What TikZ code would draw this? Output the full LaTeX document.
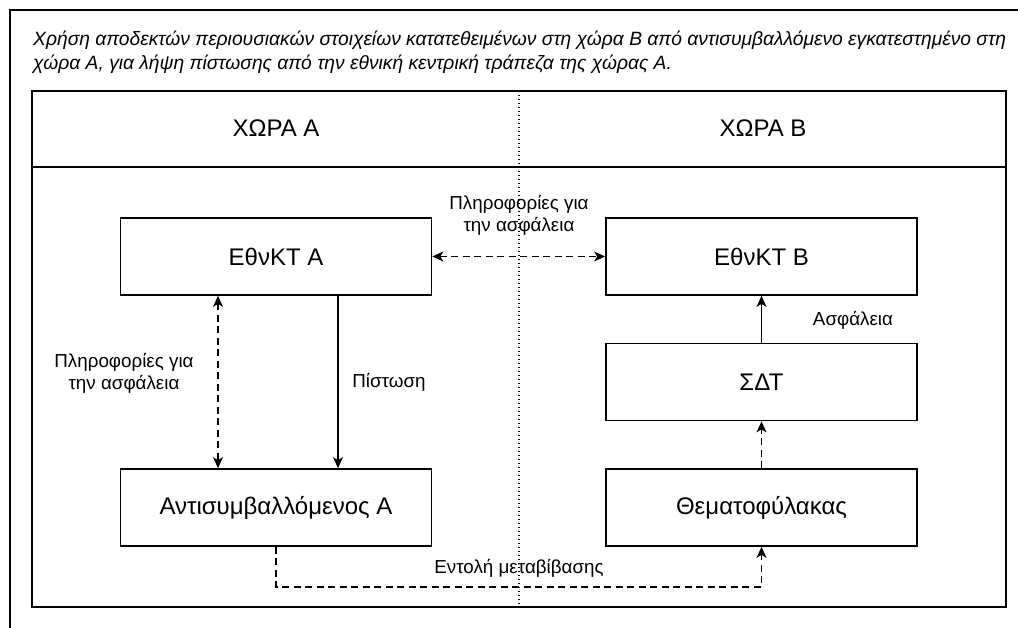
\documentclass[tikz,border=0pt]{standalone}
\usepackage{fontspec}
\setmainfont{Liberation Sans}
\usetikzlibrary{arrows.meta}

\begin{document}
\begin{tikzpicture}[x=1pt, y=-1pt, >={Stealth[length=11pt,width=10pt,inset=3pt]}]
   \tikzset{BoxStyle/.style={draw, line width=1.7pt, minimum width=311pt, minimum height=77pt, font=\fontsize{24}{28}\selectfont}}
   \tikzset{LabelStyle/.style={font=\fontsize{18.8}{22}\selectfont, align=center, inner sep=0pt}}
   \tikzset{LinkStyle/.style={line width=1.3pt}}
   \tikzset{DashStyle/.style={LinkStyle, dash pattern=on 7pt off 4.5pt}}
   \useasboundingbox (0,0) rectangle (1018,628);
   \clip (0,0) rectangle (1018,628);
   \draw[line width=1.7pt] (10,10) rectangle (1040,650);
   \node[anchor=north west, align=left, inner sep=0pt, font=\itshape\fontsize{19.25}{24}\selectfont] (title) at (33,31)
      {Χρήση αποδεκτών περιουσιακών στοιχείων κατατεθειμένων στη χώρα Β από αντισυμβαλλόμενο εγκατεστημένο στη\\
       χώρα Α, για λήψη πίστωσης από την εθνική κεντρική τράπεζα της χώρας Α.};
   \draw[line width=1.7pt] (32,91) rectangle (1006,607);
   \draw[line width=1.7pt] (32,167) -- (1006,167);
   \draw[line width=1.3pt, dash pattern=on 1.4pt off 2.6pt] (519,91) -- (519,607);
   \node[font=\fontsize{24}{28}\selectfont] (chora_a) at (276,128) {ΧΩΡΑ Α};
   \node[font=\fontsize{24}{28}\selectfont] (chora_b) at (763,128) {ΧΩΡΑ Β};
   \node[BoxStyle] (ekt_a) at (276,256.5) {ΕθνΚΤ Α};
   \node[BoxStyle] (ekt_b) at (761.5,256.5) {ΕθνΚΤ Β};
   \node[BoxStyle] (sdt) at (761.5,382) {ΣΔΤ};
   \node[BoxStyle] (themat) at (761.5,507.5) {Θεματοφύλακας};
   \node[BoxStyle] (antisym) at (276,507.5) {Αντισυμβαλλόμενος Α};
   \node[LabelStyle] (info_top) at (519,215) {Πληροφορίες για\\την ασφάλεια};
   \node[LabelStyle] (info_left) at (124,373) {Πληροφορίες για\\την ασφάλεια};
   \node[LabelStyle] (credit) at (389,382) {Πίστωση};
   \node[LabelStyle] (collat) at (853,320) {Ασφάλεια};
   \node[LabelStyle] (order) at (519,568) {Εντολή μεταβίβασης};
   \draw[DashStyle, <->] (ekt_a) -- (ekt_b);
   \draw[DashStyle, <->] ([xshift=-58pt]ekt_a.south) -- ([xshift=-58pt]antisym.north);
   \draw[LinkStyle, ->] ([xshift=62pt]ekt_a.south) -- ([xshift=62pt]antisym.north);
   \draw[LinkStyle, ->] (sdt) -- (ekt_b);
   \draw[DashStyle, ->] (themat) -- (sdt);
   \draw[DashStyle, ->] (antisym.south) -- ++(0,40) -| (themat.south);
\end{tikzpicture}
\end{document}
